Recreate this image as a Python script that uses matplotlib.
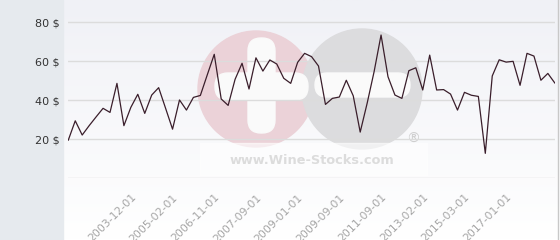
import matplotlib
matplotlib.use("Agg")
import matplotlib.pyplot as plt
import numpy as np
from matplotlib.patches import Circle, FancyBboxPatch, Rectangle

# prix mensuels (USD)
prix = [
    19.6, 29.5, 22.2, 27.0, 31.5, 35.9, 33.8, 48.7, 27.0, 36.4,
    43.1, 33.3, 42.7, 46.5, 35.9, 25.2, 40.2, 35.0, 41.5, 42.5,
    53.1, 63.6, 40.7, 37.4, 50.8, 59.0, 45.8, 61.8, 55.0, 60.7,
    58.6, 51.3, 48.7, 59.5, 64.1, 62.4, 57.6, 37.9, 41.0, 41.7,
    50.3, 42.3, 23.7, 38.5, 54.7, 73.5, 52.1, 42.7, 41.0, 55.2,
    56.7, 45.3, 63.2, 45.3, 45.5, 43.2, 35.0, 44.1, 42.6, 42.0,
    12.8, 52.5, 60.8, 59.6, 60.0, 47.7, 64.1, 62.7, 50.3, 53.8,
    48.9,
]
etiquettes = ["2003-12-01", "2005-02-01", "2006-11-01", "2007-09-01", "2009-01-01",
              "2009-09-01", "2011-09-01", "2013-02-01", "2015-03-01", "2017-01-01"]
yticks = [20, 40, 60, 80]

W, H = 560, 240
fig = plt.figure(figsize=(W / 100, H / 100), dpi=100)

# fond + filigrane, en pixels
bg = fig.add_axes([0, 0, 1, 1])
bg.set_xlim(0, W)
bg.set_ylim(H, 0)
bg.axis("off")
grad = np.linspace(0, 1, 100).reshape(-1, 1)
bg.imshow(grad, cmap=matplotlib.colors.LinearSegmentedColormap.from_list("g", ["#f0f1f6", "#ffffff"]),
          extent=(63, W, H, 0), aspect="auto")
bg.add_patch(Rectangle((0, 0), 62.5, H, color="#e6eaee"))
bg.plot([557.5, 557.5], [0, H], color="#c8c8c8", lw=1)
bg.add_patch(Circle((256, 89), 58, color="#ebd2d8"))
bg.add_patch(Circle((362, 89), 60, color="#dcdcde"))
bg.add_patch(FancyBboxPatch((215, 73), 93, 27, boxstyle="round,pad=0,rounding_size=13", color="#fafafa"))
bg.add_patch(FancyBboxPatch((315, 73), 95, 24, boxstyle="round,pad=0,rounding_size=12", color="#fafafa"))
bg.add_patch(FancyBboxPatch((248, 38), 27, 95, boxstyle="round,pad=0,rounding_size=13", color="#fafafa"))
bg.add_patch(Rectangle((200, 143), 227, 32, color="white", alpha=0.6))
bg.text(311.5, 161, "www.Wine-Stocks.com", ha="center", va="center", fontsize=9.3,
        fontweight="bold", color="#dcdcdc")
bg.text(413, 139, "®", ha="center", va="center", fontsize=10, color="#cfcfcf")

# graphique
ax = fig.add_axes([68.3 / W, (H - 178.3) / H, 486.5 / W, 173.3 / H])
ax.patch.set_alpha(0)
x = np.arange(len(prix))
ax.plot(x, prix, color="#3a1e2b", lw=0.9, zorder=3)
ax.set_xlim(0, len(prix) - 1)
ax.set_ylim(0, 88.9)
ax.set_yticks(yticks)
ax.set_yticklabels([f"{v} $" for v in yticks])
for v in [0] + yticks:
    ax.axhline(v, color="#dcdcdc", lw=1, zorder=1)
pos = list(range(9, len(prix), 6))[:len(etiquettes)]
ax.set_xticks(pos)
ax.set_xticklabels(etiquettes, rotation=45, ha="right", rotation_mode="anchor")
ax.tick_params(axis="y", length=0, pad=6.5, labelsize=8, labelcolor="#333333")
ax.tick_params(axis="x", length=0, pad=10, labelsize=7.8, labelcolor="#a5a5a5")
for s in ax.spines.values():
    s.set_visible(False)

fig.savefig("out.png", dpi=100)
